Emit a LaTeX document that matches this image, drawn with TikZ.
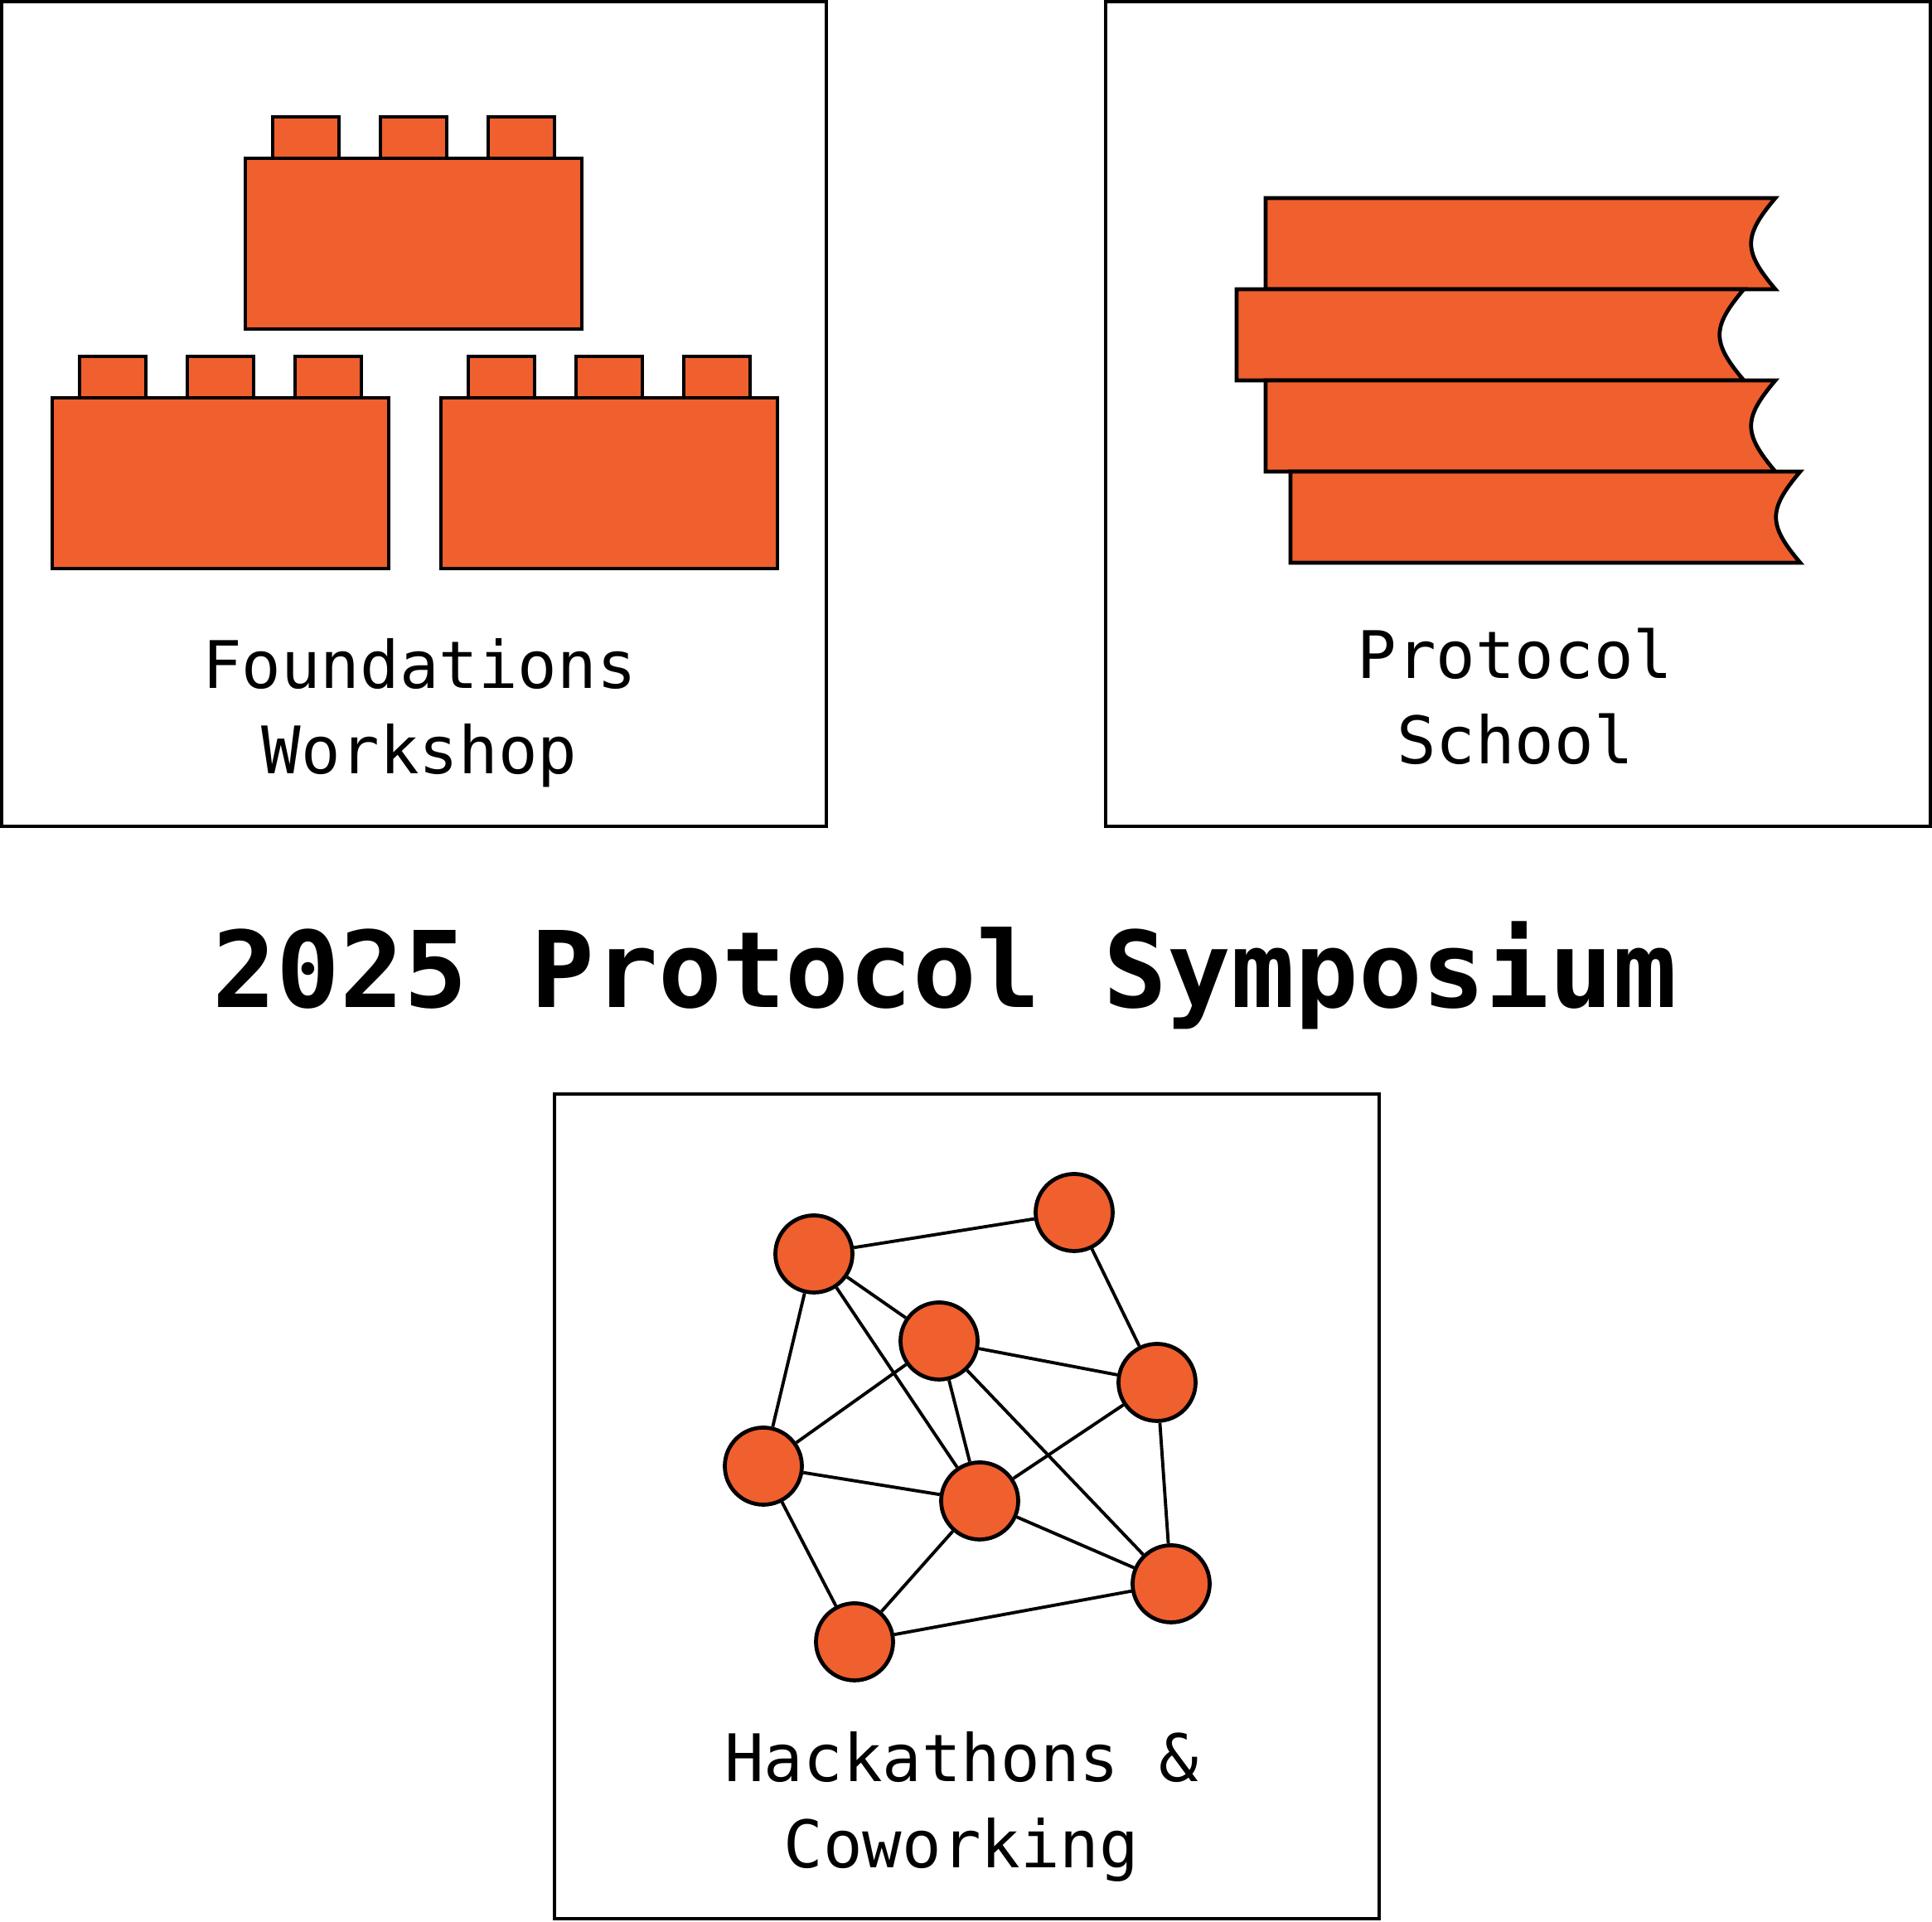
\documentclass[tikz,border=0pt]{standalone}
\usepackage{fontspec}
\setmonofont{DejaVu Sans Mono}
\usepackage{xcolor}
\usepackage{tikz}
\usetikzlibrary{shapes,positioning,calc}

\definecolor{brickorange}{RGB}{240,95,46}

\begin{document}
\begin{tikzpicture}[line width=1.35pt,
    panel/.style={draw, minimum size=9.95cm, inner sep=0pt},
    brick/.style={draw, fill=brickorange, line join=miter},
    peer/.style={circle, draw, fill=brickorange, minimum size=0.93cm, inner sep=0pt},
    link/.style={line width=1.1pt},
    caption/.style={font=\ttfamily\fontsize{22.5}{29.5}\selectfont, align=center, anchor=base, inner sep=0pt}]
    \useasboundingbox (0,0) rectangle (23.31,23.19);

    % Panels
    \node [panel] (found) at (4.995,18.195) {};
    \node [panel] (school) at (18.315,18.195) {};
    \node [panel] (hack) at (11.665,5.015) {};

    % Lego bricks
    \foreach \bx/\by in {2.96/19.22, 0.63/16.33, 5.32/16.33} {
        \draw [brick] (\bx,\by) rectangle ++(4.06,2.06);
        \foreach \sx in {0.33,1.63,2.93}
            \draw [brick] (\bx+\sx,\by+2.06) rectangle ++(0.8,0.5);
    }
    \node [caption] (foundtxt) at (5.06,13.85) {Foundations\\Workshop};

    % Stack of books
    \foreach \bl/\bt/\br in {15.27/20.80/21.42, 14.92/19.70/21.04, 15.27/18.60/21.42, 15.57/17.50/21.72}
        \draw [brick] (\bl,\bt) -- (\br,\bt)
            .. controls (\br-0.39,\bt-0.46) and (\br-0.39,\bt-0.64) .. (\br,\bt-1.1)
            -- (\bl,\bt-1.1) -- cycle;
    \node [caption] (schooltxt) at (18.28,13.97) {Protocol\\School};

    % Title
    \node [font=\ttfamily\bfseries\fontsize{36.3}{40}\selectfont, anchor=base, inner sep=0pt] (title) at (11.40,11.03) {2025 Protocol Symposium};

    % Network
    \node [peer] (p1) at (9.82,8.06) {};
    \node [peer] (p2) at (12.96,8.56) {};
    \node [peer] (p3) at (11.33,7.01) {};
    \node [peer] (p4) at (13.96,6.51) {};
    \node [peer] (p5) at (9.21,5.50) {};
    \node [peer] (p6) at (11.82,5.08) {};
    \node [peer] (p7) at (14.13,4.08) {};
    \node [peer] (p8) at (10.31,3.38) {};
    \foreach \a/\b in {p1/p2, p1/p3, p1/p5, p1/p6, p2/p4, p3/p4, p3/p5, p3/p6,
                       p3/p7, p4/p6, p4/p7, p5/p6, p5/p8, p6/p7, p6/p8, p8/p7}
        \draw [link] (\a) -- (\b);
    \node [caption] (hacktxt) at (11.60,0.655) {Hackathons \&\\Coworking};
\end{tikzpicture}
\end{document}
